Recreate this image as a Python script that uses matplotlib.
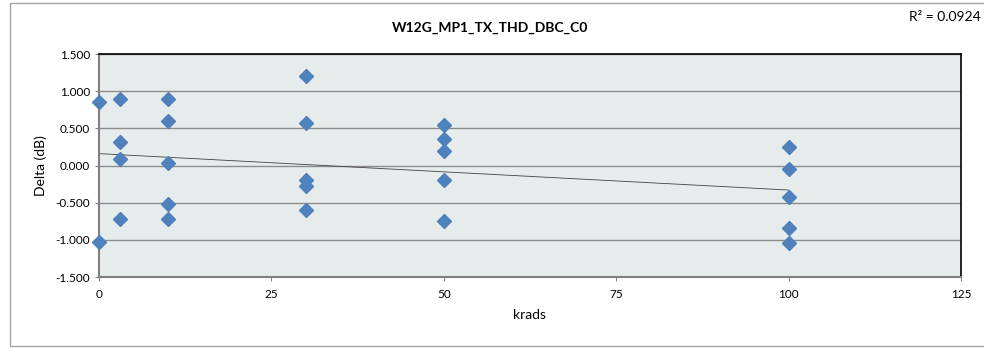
import numpy as np
import matplotlib.pyplot as plt
from matplotlib.patches import Rectangle

plt.rcParams['font.family'] = ['Lato', 'DejaVu Sans']

krads = [0, 0,
         3, 3, 3, 3,
         10, 10, 10, 10, 10,
         30, 30, 30, 30, 30,
         50, 50, 50, 50, 50,
         100, 100, 100, 100, 100]
delta = [0.86, -1.03,
         0.89, 0.31, 0.09, -0.72,
         0.89, 0.60, 0.03, -0.52, -0.72,
         1.21, 0.57, -0.20, -0.27, -0.60,
         0.54, 0.36, 0.19, -0.19, -0.74,
         0.25, -0.05, -0.43, -0.84, -1.04]
r2_label = "R² = 0.0924"

fig = plt.figure(figsize=(9.84, 3.48), dpi=100)
ax = fig.add_axes([99 / 984, 1 - 277 / 348, 862 / 984, 223 / 348])
ax.set_facecolor('#E6ECEC')

# outer chart border
fig.patches.append(Rectangle((10 / 984, 2 / 348), 1.0, 343 / 348, transform=fig.transFigure,
                             fill=False, edgecolor='#A6A6A6', linewidth=1.0))

ax.set_xlim(0, 125)
ax.set_ylim(-1.5, 1.5)
ax.set_xticks([0, 25, 50, 75, 100, 125])
ax.set_yticks(np.arange(-1.5, 1.51, 0.5))
ax.set_yticklabels([f"{v:.3f}" for v in np.arange(-1.5, 1.51, 0.5)])
ax.yaxis.grid(True, color='#8C8C8C', linewidth=1.0)
ax.set_axisbelow(True)

for side in ['left', 'bottom']:
    ax.spines[side].set_color('#808080')
    ax.spines[side].set_linewidth(1.5)
for side in ['top', 'right']:
    ax.spines[side].set_color('black')
    ax.spines[side].set_linewidth(1.2)
ax.tick_params(axis='both', colors='#808080', labelcolor='black', labelsize=8.5,
               length=3, width=0.8)
ax.tick_params(axis='x', pad=6)

# linear trend over the data range
coef = np.polyfit(krads, delta, 1)
xs = np.array([min(krads), max(krads)])
ax.plot(xs, np.polyval(coef, xs), color='#404040', linewidth=0.6, zorder=2)

ax.plot(krads, delta, linestyle='none', marker='D', markersize=7.5,
        color='#4F81BD', markeredgecolor='#4F81BD', zorder=3, clip_on=False)

ax.set_xlabel("krads", fontsize=10, labelpad=6)
ax.set_ylabel("Delta (dB)", fontsize=10, labelpad=6)
fig.text(490 / 984, 1 - 28 / 348, "W12G_MP1_TX_THD_DBC_C0", ha='center', va='center',
         fontsize=10, fontweight='bold')
fig.text(981 / 984, 1 - 17 / 348, r2_label, ha='right', va='center', fontsize=10)

fig.savefig('out.png', dpi=100)
